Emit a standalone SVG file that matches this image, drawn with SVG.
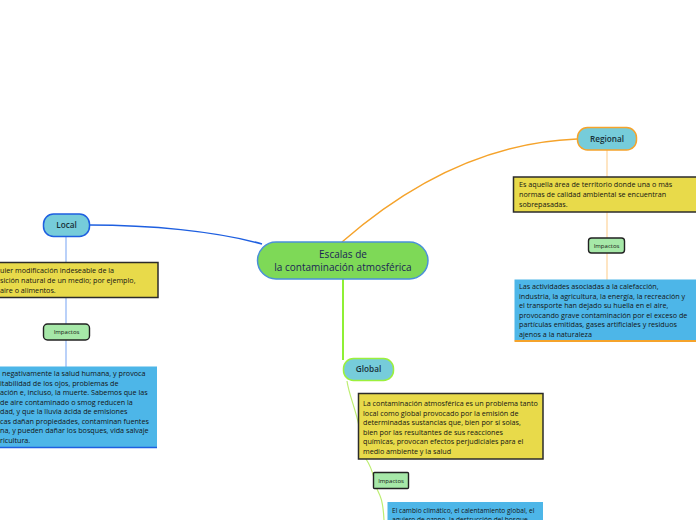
<svg xmlns="http://www.w3.org/2000/svg" width="696" height="520" viewBox="0 0 696 520">
<style>
  .t { font-family: "Open Sans", "Noto Sans", "Liberation Sans", sans-serif; fill: #141414; font-size: 7.2px; }
  .t.s { font-size: 6.6px; }
  .nl { font-family: "Open Sans", "Noto Sans", "Liberation Sans", sans-serif; fill: #163038; font-size: 8.2px; font-weight: 600; text-anchor: middle; }
  .imp { font-family: "Open Sans", "Noto Sans", "Liberation Sans", sans-serif; fill: #141414; font-size: 6px; text-anchor: middle; }
  .yel { fill: #e8da4a; stroke: #2b2b2b; stroke-width: 1.5; }
  .blue { fill: #4db6e8; stroke: none; }
  .impb { fill: #a6e8a8; stroke: #222; stroke-width: 1.4; }
  .node { fill: #76ccda; stroke-width: 1.5; }
</style>
<rect width="696" height="520" fill="#ffffff"/>
<g id="connectors" fill="none">
  <path d="M 89 225 C 150 225, 215 231, 262 244" stroke="#1e5fe0" stroke-width="1.5"/>
  <path d="M 342 242 C 390 200, 470 143, 577 139" stroke="#f5a32b" stroke-width="1.5"/>
  <path d="M 343 279 L 343 360" stroke="#8ef035" stroke-width="2"/>
  <path d="M 66 237 L 66 367" stroke="#8cb2f5" stroke-width="1.2"/>
  <path d="M 607 150 L 607 280" stroke="#fdd49a" stroke-width="1.2"/>
  <path d="M 347 381 C 349 395, 355 407, 359 426 L 366 459 C 370 465, 372 470, 374 478 L 377 489 C 380 495, 383 500, 384 520" stroke="#bdee72" stroke-width="1.2"/>
</g>
<g id="central">
  <rect x="257.5" y="242" width="170.5" height="37" rx="18.5" fill="#7ed957" stroke="#4a90d9" stroke-width="1.5"/>
  <text x="343" y="257.5" font-family="'Open Sans', 'Noto Sans', 'Liberation Sans', sans-serif" font-size="10" fill="#1b2456" text-anchor="middle">Escalas de</text>
  <text x="343" y="271" font-family="'Open Sans', 'Noto Sans', 'Liberation Sans', sans-serif" font-size="10" fill="#1b2456" text-anchor="middle">la contaminación atmosférica</text>
</g>
<g id="local">
  <rect class="node" x="43.5" y="214" width="46" height="22.5" rx="10" stroke="#1e5fe0"/>
  <text class="nl" x="66.5" y="228">Local</text>
</g>
<g id="local-def">
  <rect class="yel" x="-24" y="262.5" width="182" height="35"/>
  <text class="t" x="0" y="273">uier modificación indeseable de la</text>
  <text class="t" x="0" y="283">sición natural de un medio; por ejemplo,</text>
  <text class="t" x="0" y="293">aire o alimentos.</text>
</g>
<g id="local-impactos">
  <rect class="impb" x="43.5" y="324" width="46" height="16" rx="4"/>
  <text class="imp" x="66.5" y="334.3">Impactos</text>
</g>
<g id="local-impact-text">
  <rect class="blue" x="-10" y="366.5" width="167" height="81"/>
  <line x1="-10" y1="447.5" x2="157" y2="447.5" stroke="#1e5fe0" stroke-width="1.5"/>
  <text class="t" x="2" y="376">negativamente la salud humana, y provoca</text>
  <text class="t" x="0" y="385.5">itabilidad de los ojos, problemas de</text>
  <text class="t" x="0" y="395">ación e, incluso, la muerte. Sabemos que las</text>
  <text class="t" x="0" y="404.5">de aire contaminado o smog reducen la</text>
  <text class="t" x="0" y="414">dad, y que la lluvia ácida de emisiones</text>
  <text class="t" x="0" y="423.5">cas dañan propiedades, contaminan fuentes</text>
  <text class="t" x="0" y="433">na, y pueden dañar los bosques, vida salvaje</text>
  <text class="t" x="0" y="442.5">ricultura.</text>
</g>
<g id="regional">
  <rect class="node" x="577.5" y="127.5" width="59" height="22.5" rx="10" stroke="#f5a32b"/>
  <text class="nl" x="607" y="141.5">Regional</text>
</g>
<g id="regional-def">
  <rect class="yel" x="513.5" y="177" width="190" height="35"/>
  <text class="t" x="519" y="186.5">Es aquella área de territorio donde una o más</text>
  <text class="t" x="519" y="196.5">normas de calidad ambiental se encuentran</text>
  <text class="t" x="519" y="206.5">sobrepasadas.</text>
</g>
<g id="regional-impactos">
  <rect class="impb" x="588.5" y="238" width="36" height="15" rx="3"/>
  <text class="imp" x="606.5" y="247.8">Impactos</text>
</g>
<g id="regional-impact-text">
  <rect class="blue" x="514.5" y="279.5" width="190" height="61"/>
  <line x1="514.5" y1="341" x2="696" y2="341" stroke="#f5a32b" stroke-width="1.8"/>
  <text class="t" x="519" y="289">Las actividades asociadas a la calefacción,</text>
  <text class="t" x="519" y="298.5">industria, la agricultura, la energía, la recreación y</text>
  <text class="t" x="519" y="308">el transporte han dejado su huella en el aire,</text>
  <text class="t" x="519" y="317.5">provocando grave contaminación por el exceso de</text>
  <text class="t" x="519" y="327">partículas emitidas, gases artificiales y residuos</text>
  <text class="t" x="519" y="336.5">ajenos a la naturaleza</text>
</g>
<g id="global">
  <rect class="node" x="343.5" y="358.5" width="50" height="22" rx="10" stroke="#9cf03c"/>
  <text class="nl" x="368.5" y="372.3">Global</text>
</g>
<g id="global-def">
  <rect class="yel" x="358.5" y="393.5" width="184.5" height="65.5"/>
  <text class="t" x="363" y="406">La contaminación atmosférica es un problema tanto</text>
  <text class="t" x="363" y="415.5">local como global provocado por la emisión de</text>
  <text class="t" x="363" y="425">determinadas sustancias que, bien por sí solas,</text>
  <text class="t" x="363" y="434.5">bien por las resultantes de sus reacciones</text>
  <text class="t" x="363" y="444">químicas, provocan efectos perjudiciales para el</text>
  <text class="t" x="363" y="453.5">medio ambiente y la salud</text>
</g>
<g id="global-impactos">
  <rect class="impb" x="373.5" y="472.5" width="35" height="16" rx="1"/>
  <text class="imp" x="391" y="482.5">Impactos</text>
</g>
<g id="global-impact-text">
  <rect class="blue" x="387.5" y="502" width="155.5" height="30"/>
  <text class="t s" x="392" y="512.5">El cambio climático, el calentamiento global, el</text>
  <text class="t s" x="392" y="521.5">agujero de ozono, la destrucción del bosque</text>
</g>
</svg>
